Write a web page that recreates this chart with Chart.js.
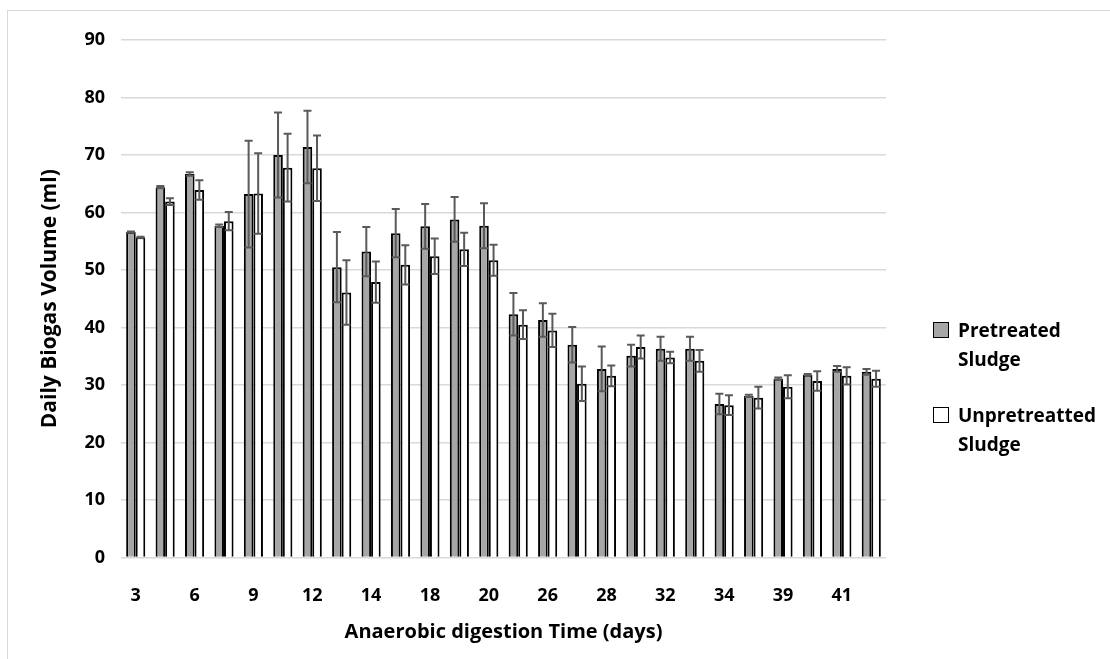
<!DOCTYPE html>
<html>
<head>
<meta charset="utf-8">
<script src="https://cdn.jsdelivr.net/npm/chart.js@4.4.0/dist/chart.umd.min.js"></script>
<style>
  html, body { margin: 0; padding: 0; background: #fff; }
  #wrap { position: relative; width: 1110px; height: 659px; overflow: hidden; }
  #frame { position: absolute; left: 7px; top: 10px; width: 1200px; height: 800px; border-left: 1px solid #d9d9d9; border-top: 1px solid #d9d9d9; }
  #legend { position: absolute; left: 933px; top: 316px; font-family: "Open Sans", sans-serif; font-weight: 700; font-size: 19px; line-height: 29px; color: #000; }
  .lg-item { position: relative; padding-left: 25px; margin-bottom: 27px; }
  .lg-box { position: absolute; left: 0; top: 6px; width: 14px; height: 14px; border: 1.5px solid #000; }
</style>
</head>
<body>
<div id="wrap">
  <div id="frame"></div>
  <canvas id="chart" width="1110" height="659"></canvas>
  <div id="legend"></div>
</div>
<script>
// day labels: only every second category is labelled in the figure
const days = ['3','','6','','9','','12','','14','','18','','20','','26','','28','','32','','34','','39','','41',''];

const pretreated    = [56.6, 64.4, 66.7, 57.7, 63.2, 70.0, 71.4, 50.5, 53.2, 56.4, 57.6, 58.8, 57.7, 42.3, 41.3, 37.0, 32.8, 35.1, 36.3, 36.3, 26.7, 28.1, 31.1, 31.8, 32.8, 32.3];
const pretreatedErr = [0.1, 0.2, 0.3, 0.2, 9.3, 7.4, 6.3, 6.1, 4.3, 4.2, 3.9, 3.9, 3.9, 3.7, 2.9, 3.1, 3.9, 1.9, 2.1, 2.1, 1.8, 0.2, 0.2, 0.1, 0.5, 0.5];

const unpretreated    = [55.7, 61.9, 63.9, 58.5, 63.3, 67.8, 67.7, 46.1, 47.9, 50.9, 52.4, 53.6, 51.7, 40.5, 39.5, 30.2, 31.6, 36.6, 34.8, 34.2, 26.5, 27.8, 29.7, 30.7, 31.6, 31.1];
const unpretreatedErr = [0.1, 0.6, 1.7, 1.6, 7.0, 5.9, 5.7, 5.6, 3.6, 3.4, 3.1, 2.9, 2.7, 2.5, 2.9, 3.0, 1.8, 2.0, 1.0, 1.9, 1.7, 1.9, 2.0, 1.7, 1.5, 1.4];

const seriesNames = [['Pretreated', 'Sludge'], ['Unpretreatted', 'Sludge']];
const seriesFill = ['#a6a6a6', '#ffffff'];

const FONT = '"Open Sans", sans-serif';

// error bars drawn from the bar elements + y scale
const errorBars = {
  id: 'errorBars',
  afterDatasetsDraw(chart) {
    const ctx = chart.ctx;
    const y = chart.scales.y;
    chart.data.datasets.forEach((ds, i) => {
      const meta = chart.getDatasetMeta(i);
      meta.data.forEach((bar, j) => {
        const v = ds.data[j], e = ds.errors[j];
        if (!e) return;
        const yTop = y.getPixelForValue(v + e);
        const yBot = y.getPixelForValue(v - e);
        const cap = 4;
        ctx.save();
        ctx.strokeStyle = '#5a5a5a';
        ctx.lineWidth = 2;
        ctx.beginPath();
        ctx.moveTo(bar.x, yTop); ctx.lineTo(bar.x, yBot);
        ctx.moveTo(bar.x - cap, yTop); ctx.lineTo(bar.x + cap, yTop);
        ctx.moveTo(bar.x - cap, yBot); ctx.lineTo(bar.x + cap, yBot);
        ctx.stroke();
        ctx.restore();
      });
    });
  }
};

const ctx = document.getElementById('chart').getContext('2d');
new Chart(ctx, {
  type: 'bar',
  data: {
    labels: days,
    datasets: [
      { label: 'Pretreated Sludge', data: pretreated, errors: pretreatedErr, backgroundColor: seriesFill[0], borderColor: '#000', borderWidth: 2, borderSkipped: 'bottom' },
      { label: 'Unpretreatted Sludge', data: unpretreated, errors: unpretreatedErr, backgroundColor: seriesFill[1], borderColor: '#000', borderWidth: 2, borderSkipped: 'bottom' }
    ]
  },
  options: {
    responsive: false,
    animation: false,
    layout: { padding: { left: 0, top: 40, right: 224, bottom: 0 } },
    datasets: { bar: { categoryPercentage: 0.65, barPercentage: 1.0 } },
    plugins: { legend: { display: false }, tooltip: { enabled: false } },
    scales: {
      x: {
        grid: { display: false },
        border: { display: false },
        ticks: { autoSkip: false, maxRotation: 0, padding: 20, color: '#000', font: { family: FONT, size: 18, weight: 'bold' } },
        title: { display: true, text: 'Anaerobic digestion Time (days)', color: '#000', font: { family: FONT, size: 20, weight: 'bold' }, padding: { top: 0, bottom: 15 } },
        afterFit(scale) { scale.height = 101.5; }
      },
      y: {
        min: 0, max: 90,
        ticks: { stepSize: 10, padding: 16, color: '#000', font: { family: FONT, size: 18, weight: 'bold' } },
        grid: { color: '#d9d9d9', lineWidth: 1.5, drawTicks: false },
        border: { display: false },
        title: { display: true, text: 'Daily Biogas Volume (ml)', color: '#000', font: { family: FONT, size: 21, weight: 'bold' }, padding: { top: 37, bottom: 0 } },
        afterFit(scale) { scale.width = 121; }
      }
    }
  },
  plugins: [errorBars]
});

// legend (two-line labels)
document.getElementById('legend').innerHTML = seriesNames.map((n, i) =>
  `<div class="lg-item"><span class="lg-box" style="background:${seriesFill[i]}"></span>${n.join('<br>')}</div>`
).join('');
</script>
</body>
</html>
